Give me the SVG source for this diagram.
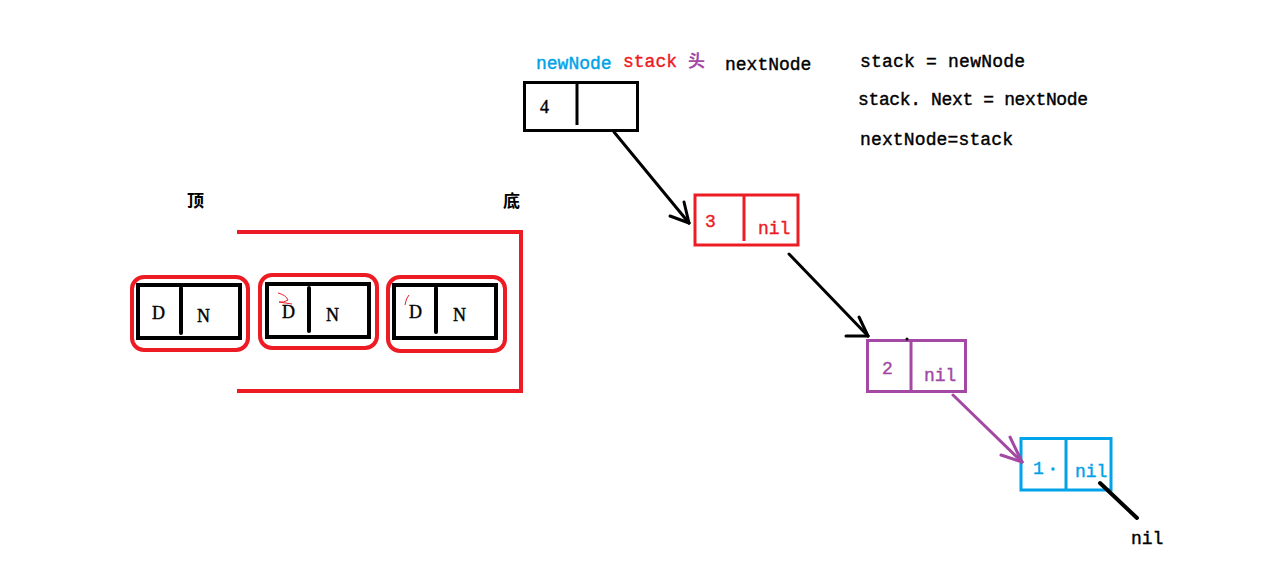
<svg xmlns="http://www.w3.org/2000/svg" width="1266" height="586" viewBox="0 0 1266 586">
<style>
.mono{font-family:"Liberation Mono","DejaVu Sans Mono",monospace;font-size:18px;stroke-width:0.4;}
.serif{font-family:"Liberation Serif","DejaVu Serif",serif;font-size:18px;stroke-width:0.4;}
.cjk{font-family:"Noto Sans CJK SC",sans-serif;font-size:17px;font-weight:bold;}
.blk{fill:#000;stroke:#000}
.red{fill:#ed1c24;stroke:#ed1c24}
.pur{fill:#a349a4;stroke:#a349a4}
.blu{fill:#00a2e8;stroke:#00a2e8}
.cjk.blk,.cjk.pur{stroke:none}
</style>
<rect width="1266" height="586" fill="#fff"/>
<!-- top labels -->
<g id="labels">
<text class="mono blu" x="536" y="69">newNode</text>
<text class="mono red" x="623" y="67">stack</text>
<text class="cjk pur" x="688" y="67">头</text>
<text class="mono blk" x="725" y="70">nextNode</text>
<text class="mono blk" x="860" y="67" textLength="165">stack = newNode</text>
<text class="mono blk" x="858" y="105" textLength="230">stack. Next = nextNode</text>
<text class="mono blk" x="860" y="145" textLength="153">nextNode=stack</text>
</g>
<!-- stack diagram -->
<g id="stack">
<text class="cjk blk" x="187" y="207">顶</text>
<text class="cjk blk" x="503" y="207">底</text>
<polyline points="237,232 521,232 521,391 237,391" fill="none" stroke="#ed1c24" stroke-width="4"/>
</g>
<g id="cell1">
<rect x="132" y="277" width="116" height="73" rx="12" fill="none" stroke="#ed1c24" stroke-width="4"/>
<rect x="138" y="285" width="102" height="53" fill="none" stroke="#000" stroke-width="4"/>
<line x1="181" y1="288" x2="181" y2="333" stroke="#000" stroke-width="4" stroke-linecap="round"/>
<text class="serif blk" x="152" y="319">D</text>
<text class="serif blk" x="197" y="322">N</text>
</g>
<g id="cell2">
<rect x="260" y="275" width="117" height="73" rx="12" fill="none" stroke="#ed1c24" stroke-width="4"/>
<rect x="267" y="284" width="102" height="53" fill="none" stroke="#000" stroke-width="4"/>
<line x1="309" y1="288" x2="309" y2="331" stroke="#000" stroke-width="4" stroke-linecap="round"/>
<text class="serif blk" x="282" y="318">D</text>
<text class="serif blk" x="326" y="321">N</text>
<path d="M278,293 Q286,295 288,300 Q284,303 279,302 L292,304" fill="none" stroke="#ed1c24" stroke-width="1"/>
</g>
<g id="cell3">
<rect x="388" y="277" width="117" height="74" rx="12" fill="none" stroke="#ed1c24" stroke-width="4"/>
<rect x="394" y="285" width="102" height="53" fill="none" stroke="#000" stroke-width="4"/>
<line x1="436" y1="288" x2="436" y2="332" stroke="#000" stroke-width="4" stroke-linecap="round"/>
<text class="serif blk" x="409" y="318">D</text>
<text class="serif blk" x="453" y="321">N</text>
<path d="M409,295 Q406,298 405,305" fill="none" stroke="#ed1c24" stroke-width="1"/>
</g>
<!-- linked list nodes -->
<g id="node4">
<rect x="524.5" y="82.5" width="113" height="48" fill="none" stroke="#000" stroke-width="3"/>
<line x1="577" y1="82" x2="577" y2="125" stroke="#000" stroke-width="3"/>
<text class="serif blk" x="540" y="113" font-size="17">4</text>
</g>
<g id="node3">
<rect x="695" y="195" width="103" height="50" fill="none" stroke="#ed1c24" stroke-width="3"/>
<line x1="744" y1="195" x2="744" y2="241" stroke="#ed1c24" stroke-width="3"/>
<text class="mono red" x="705" y="227" font-size="17">3</text>
<text class="mono red" x="758" y="234" font-size="17">nil</text>
</g>
<g id="node2">
<rect x="867.5" y="340.5" width="98" height="51" fill="none" stroke="#a349a4" stroke-width="3"/>
<line x1="911" y1="340" x2="911" y2="392" stroke="#a349a4" stroke-width="3"/>
<circle cx="907" cy="339" r="1.5" fill="#000"/>
<text class="mono pur" x="882" y="374" font-size="17">2</text>
<text class="mono pur" x="924" y="381" font-size="17">nil</text>
</g>
<g id="node1">
<rect x="1021" y="438.5" width="90" height="51.5" fill="none" stroke="#00a2e8" stroke-width="3"/>
<line x1="1066" y1="438" x2="1066" y2="490" stroke="#00a2e8" stroke-width="3"/>
<text class="mono blu" x="1033" y="474" font-size="17">1</text>
<rect x="1051.5" y="467.5" width="3" height="3" fill="#00a2e8"/>
<text class="mono blu" x="1075" y="477" font-size="17">nil</text>
</g>
<g id="nilLabel">
<text class="mono blk" x="1131" y="544" font-size="17">nil</text>
</g>
<!-- connectors -->
<g id="connectors" fill="none" stroke-linecap="round">
<g stroke="#000" stroke-width="3">
<line x1="614" y1="132" x2="689" y2="223"/>
<line x1="670" y1="216" x2="689" y2="223"/>
<line x1="684" y1="202" x2="689" y2="223"/>
<line x1="789" y1="254" x2="868" y2="336"/>
<line x1="846" y1="336" x2="868" y2="336"/>
<line x1="859" y1="317" x2="868" y2="336"/>
<line x1="1100" y1="483" x2="1137" y2="518" stroke-width="4"/>
</g>
<g stroke="#a349a4" stroke-width="3">
<line x1="953" y1="395" x2="1022" y2="462"/>
<line x1="1001" y1="455" x2="1022" y2="462"/>
<line x1="1010" y1="437" x2="1022" y2="462"/>
</g>
</g>
</svg>
